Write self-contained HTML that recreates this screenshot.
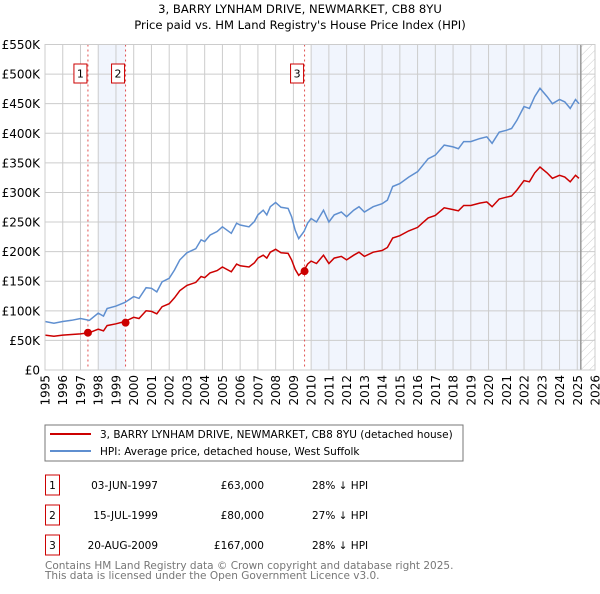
<!DOCTYPE html>
<html><head><meta charset="utf-8">
<style>
body{margin:0;background:#fff;font-family:"DejaVu Sans","Liberation Sans",sans-serif;}
svg text{font-family:"DejaVu Sans","Liberation Sans",sans-serif;}
</style></head>
<body>
<svg id="chart" width="600" height="590" viewBox="0 0 600 590">
<defs>
<pattern id="hatch" width="6" height="6" patternUnits="userSpaceOnUse" patternTransform="rotate(45)">
<line x1="0" y1="0" x2="0" y2="6" stroke="#ccc" stroke-width="1"/>
</pattern>
</defs>
<text x="300" y="13" text-anchor="middle" font-size="11.6">3, BARRY LYNHAM DRIVE, NEWMARKET, CB8 8YU</text>
<text x="300" y="29" text-anchor="middle" font-size="11.6">Price paid vs. HM Land Registry's House Price Index (HPI)</text>
<g id="plot"></g>
<rect x="45" y="425" width="418" height="36" fill="#fff" stroke="#777" stroke-width="1"/>
<line x1="50" y1="434" x2="91" y2="434" stroke="#cc0000" stroke-width="2"/>
<text x="100" y="438" font-size="10.5">3, BARRY LYNHAM DRIVE, NEWMARKET, CB8 8YU (detached house)</text>
<line x1="50" y1="451" x2="91" y2="451" stroke="#5f8fd0" stroke-width="2"/>
<text x="100" y="455" font-size="10.5">HPI: Average price, detached house, West Suffolk</text>
<g id="table"></g>
<text x="45" y="569" font-size="10.5" fill="#777">Contains HM Land Registry data © Crown copyright and database right 2025.</text>
<text x="45" y="579" font-size="10.5" fill="#777">This data is licensed under the Open Government Licence v3.0.</text>
</svg>
<script>
const hpiYears=[1995,1995.5,1996,1996.5,1997,1997.5,1998,1998.3,1998.5,1999,1999.5,2000,2000.3,2000.7,2001,2001.3,2001.6,2002,2002.3,2002.6,2003,2003.5,2003.8,2004,2004.3,2004.7,2005,2005.5,2005.8,2006,2006.5,2006.8,2007,2007.3,2007.5,2007.7,2008,2008.3,2008.7,2008.9,2009.1,2009.3,2009.6,2009.8,2010,2010.3,2010.7,2011,2011.3,2011.7,2012,2012.4,2012.7,2013,2013.5,2014,2014.3,2014.6,2015,2015.5,2016,2016.3,2016.6,2017,2017.5,2018,2018.3,2018.6,2019,2019.5,2019.9,2020.2,2020.6,2021,2021.3,2021.6,2022,2022.3,2022.6,2022.9,2023.3,2023.6,2024,2024.3,2024.6,2024.9,2025.1];
const hpiValues=[82,79,82,84,87,84,96,91,104,108,114,124,121,139,138,132,149,155,169,186,198,205,220,217,228,234,242,231,248,245,242,251,262,270,262,276,283,275,273,259,236,222,234,248,256,250,270,250,262,267,259,270,276,267,276,281,287,310,315,326,335,346,357,363,380,377,374,386,386,391,394,383,402,405,408,422,445,442,462,476,462,450,457,453,442,457,450];
const propValues=[59,57,59,60,61,63,69,66,75,78,82,89,87,100,99,95,107,112,122,134,143,148,158,156,164,168,174,166,179,176,174,181,189,194,189,199,204,198,197,186,170,160,168,179,184,180,194,180,189,192,186,194,199,192,199,202,207,223,227,235,241,249,257,261,274,271,269,278,278,282,284,276,289,292,294,304,320,318,333,343,333,324,329,326,318,329,324];
const saleYears=[1997.42,1999.54,2009.63];
const salePrices=[63,80,167];
const saleLabels=["1","2","3"];
const saleDates=["03-JUN-1997","15-JUL-1999","20-AUG-2009"];
const salePriceText=["£63,000","£80,000","£167,000"];
const saleDiff=["28% ↓ HPI","27% ↓ HPI","28% ↓ HPI"];
const yTicks=[0,50,100,150,200,250,300,350,400,450,500,550];
const xTicks=[1995,1996,1997,1998,1999,2000,2001,2002,2003,2004,2005,2006,2007,2008,2009,2010,2011,2012,2013,2014,2015,2016,2017,2018,2019,2020,2021,2022,2023,2024,2025,2026];

const NS="http://www.w3.org/2000/svg";
const L=45,R=595,T=44.5,B=370;
const xs=y=>L+(y-1995)/(2026-1995)*(R-L);
const ys=v=>B-v/550*(B-T);
const g=document.getElementById('plot');
function mk(tag,attrs,parent){const e=document.createElementNS(NS,tag);for(const k in attrs)e.setAttribute(k,attrs[k]);(parent||g).appendChild(e);return e;}

let r=mk('rect',{x:xs(1998),y:T,width:xs(1999.54)-xs(1998),height:B-T,fill:'#eef3fc',opacity:0.8});


r=mk('rect',{x:xs(2010),y:T,width:xs(2025.2)-xs(2010),height:B-T,fill:'#eef3fc',opacity:0.8});


r=mk('rect',{x:xs(2025.2),y:T,width:R-xs(2025.2),height:B-T,fill:'url(#hatch)'});



yTicks.forEach(v=>{
 let l=mk('line',{x1:L,x2:R,y1:ys(v),y2:ys(v),stroke:'#ccc','stroke-width':1});
 
 
 let t=mk('text',{x:40,y:ys(v)+4.5,'text-anchor':'end','font-size':12});
 t.textContent=v===0?'£0':'£'+v+'K';
 
 
});
xTicks.forEach(y=>{
 let l=mk('line',{x1:xs(y),x2:xs(y),y1:T,y2:B,stroke:'#ccc','stroke-width':1});
 
 
 let t=mk('text',{x:0,y:0,'text-anchor':'end','font-size':12,transform:`translate(${xs(y)+4.5},375) rotate(-90)`});
 t.textContent=y;
 
 
});
let bl=mk('line',{x1:xs(2025.2),x2:xs(2025.2),y1:T,y2:B,stroke:'#999','stroke-width':1.5});



saleYears.forEach((y,i)=>{
 let l=mk('line',{x1:xs(y),x2:xs(y),y1:T,y2:B,stroke:'#e05050','stroke-width':1,'stroke-dasharray':'2,3'});
 
 
 let bx=mk('rect',{x:xs(y)-14,y:64,width:13,height:19,fill:'#fff',stroke:'#cc0000','stroke-width':1});
 
 
 let t=mk('text',{x:xs(y)-7.5,y:77.5,'text-anchor':'middle','font-size':11});
 t.textContent=saleLabels[i];
 
 
});

function path(vals){return hpiYears.map((y,i)=>(i?'L':'M')+xs(y).toFixed(1)+','+ys(vals[i]).toFixed(1)).join(' ');}
let ph=mk('path',{d:path(hpiValues),fill:'none',stroke:'#5f8fd0','stroke-width':1.5});


let pp=mk('path',{d:path(propValues),fill:'none',stroke:'#cc0000','stroke-width':1.5});


saleYears.forEach((y,i)=>{
 let c=mk('circle',{cx:xs(y),cy:ys(salePrices[i]),r:4,fill:'#cc0000'});
 
 
});
let ax=mk('rect',{x:L,y:T,width:R-L,height:B-T,fill:'none',stroke:'#ccc','stroke-width':1});



const tb=document.getElementById('table');
saleYears.forEach((y,i)=>{
 const cy=485+i*30;
 let b=mk('rect',{x:45.5,y:cy-10,width:14,height:20,fill:'#fff',stroke:'#cc0000','stroke-width':1},tb);
 
 
 let t=mk('text',{x:52.5,y:cy+4,'text-anchor':'middle','font-size':10.5},tb);
 t.textContent=saleLabels[i];
 
 
 t=mk('text',{x:158,y:cy+4,'text-anchor':'end','font-size':10.5},tb);
 t.textContent=saleDates[i];
 
 
 t=mk('text',{x:264,y:cy+4,'text-anchor':'end','font-size':10.5},tb);
 t.textContent=salePriceText[i];
 
 
 t=mk('text',{x:312,y:cy+4,'font-size':10.5},tb);
 t.textContent=saleDiff[i];
 
 
});
</script>
</body></html>
